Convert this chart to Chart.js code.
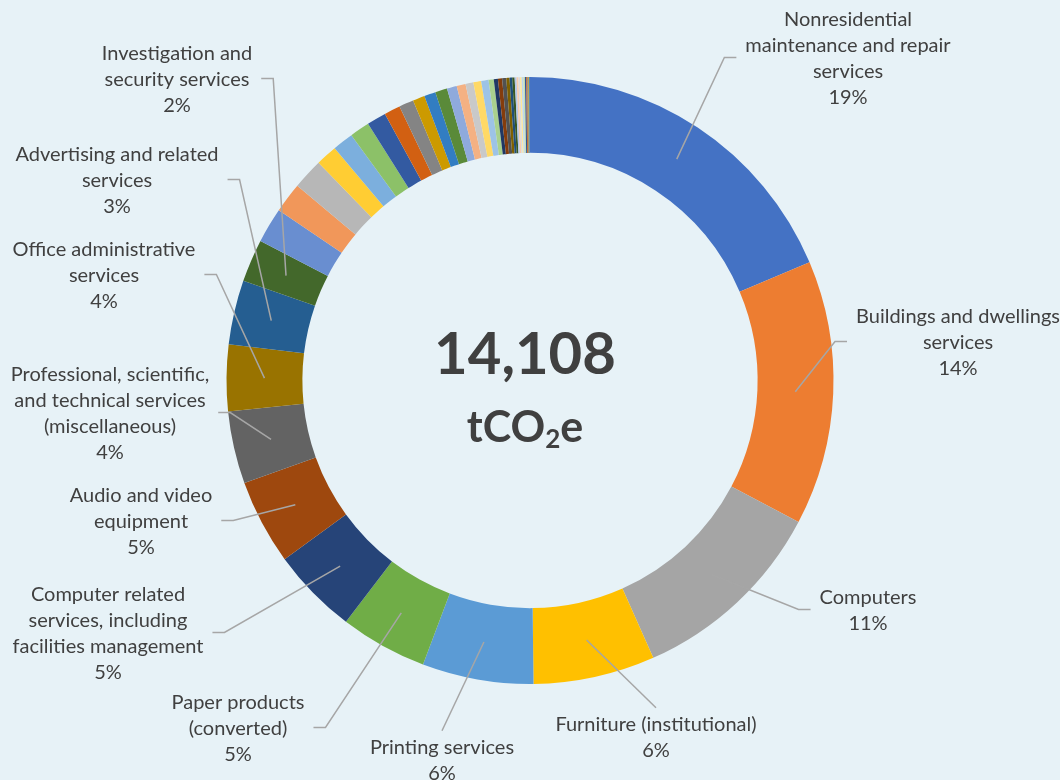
<!DOCTYPE html>
<html>
<head>
<meta charset="utf-8">
<title>Emissions by category</title>
<script src="https://cdn.jsdelivr.net/npm/chart.js@4/dist/chart.umd.min.js"></script>
<style>
  html, body { margin: 0; padding: 0; background: #E7F2F7; }
  #wrap { width: 1060px; height: 780px; position: relative; }
  canvas { display: block; }
</style>
</head>
<body>
<div id="wrap"><canvas id="donut" width="1060" height="780"></canvas></div>
<script>
// Category names (multi-line where the label wraps)
const categories = [
  ["Nonresidential", "maintenance and repair", "services"],
  ["Buildings and dwellings", "services"],
  ["Computers"],
  ["Furniture (institutional)"],
  ["Printing services"],
  ["Paper products", "(converted)"],
  ["Computer related", "services, including", "facilities management"],
  ["Audio and video", "equipment"],
  ["Professional, scientific,", "and technical services", "(miscellaneous)"],
  ["Office administrative", "services"],
  ["Advertising and related", "services"],
  ["Investigation and", "security services"],
  ["Other 13"], ["Other 14"], ["Other 15"], ["Other 16"], ["Other 17"], ["Other 18"],
  ["Other 19"], ["Other 20"], ["Other 21"], ["Other 22"], ["Other 23"], ["Other 24"],
  ["Other 25"], ["Other 26"], ["Other 27"], ["Other 28"], ["Other 29"], ["Other 30"],
  ["Other 31"], ["Other 32"], ["Other 33"], ["Other 34"], ["Other 35"], ["Other 36"],
  ["Other 37"], ["Other 38"], ["Other 39"], ["Other 40"], ["Other 41"], ["Other 42"],
  ["Other 43"], ["Other 44"], ["Other 45"], ["Other 46"], ["Other 47"]
];

// Emissions per category, tCO2e
const emissions = [
  2629, 1987, 1499, 913, 835, 654, 651, 639, 545, 498, 482, 321,
  266, 227, 231, 161, 157, 149, 145, 121, 110, 90, 86, 90,
  74, 67, 59, 59, 55, 39, 31, 31, 31, 24,
  20, 18, 14, 14, 12, 12, 12, 12, 10, 8, 8, 6, 6
];

// Office-style slice palette
const sliceColors = [
  "#4472C4", "#ED7D31", "#A5A5A5", "#FFC000", "#5B9BD5", "#70AD47",
  "#264478", "#9E480E", "#636363", "#997300", "#255E91", "#43682B",
  "#698ED0", "#F1975A", "#B7B7B7", "#FFCD33", "#7CAFDD", "#8CC168",
  "#335AA1", "#D26012", "#848484", "#CC9A00", "#327DC2", "#5A8A39",
  "#8FAADC", "#F4B183", "#C9C9C9", "#FFD966", "#9DC3E6", "#A9D18E",
  "#203864", "#843C0C", "#525252", "#7F6000", "#1F4E79", "#385723",
  "#B4C7E7", "#F8CBAD", "#DBDBDB", "#FFE699", "#BDD7EE", "#C5E0B4",
  "#2F5597", "#C55A11", "#7B7B7B", "#BF9000", "#2E75B6"
];

const unitMain = "tCO";
const unitSub = "2";
const unitTail = "e";

// Where each outside label sits, as an offset from the doughnut centre.
// side: which side of the leader line the text block is on.
const labelPlacement = [
  { index: 0,  dx: 318,  dy: -322, side: "right" },
  { index: 1,  dx: 428,  dy: -38,  side: "right" },
  { index: 2,  dx: 338,  dy: 230,  side: "right" },
  { index: 3,  dx: 126,  dy: 357,  side: "below" },
  { index: 4,  dx: -88,  dy: 380,  side: "below" },
  { index: 5,  dx: -292, dy: 348,  side: "left" },
  { index: 6,  dx: -422, dy: 253,  side: "left" },
  { index: 7,  dx: -389, dy: 141,  side: "left" },
  { index: 8,  dx: -420, dy: 33,   side: "left" },
  { index: 9,  dx: -426, dy: -105, side: "left" },
  { index: 10, dx: -413, dy: -200, side: "left" },
  { index: 11, dx: -353, dy: -301, side: "left" }
];

const TEXT_COLOR = "#404040";
const LEADER_COLOR = "#A6A6A6";
const LABEL_FONT = "20px Lato";
const LINE_H = 25.8;

const sliceLabels = {
  id: "sliceLabels",
  afterDatasetsDraw(chart) {
    const ctx = chart.ctx;
    const meta = chart.getDatasetMeta(0);
    const data = chart.data.datasets[0].data;
    const total = data.reduce((a, b) => a + b, 0);
    ctx.save();
    ctx.font = LABEL_FONT;
    ctx.textAlign = "center";
    ctx.textBaseline = "middle";
    labelPlacement.forEach(p => {
      const arc = meta.data[p.index];
      const a = arc.getProps(["x", "y", "startAngle", "endAngle", "innerRadius", "outerRadius"], true);
      const mid = (a.startAngle + a.endAngle) / 2;
      const r = (a.innerRadius + a.outerRadius) / 2;
      const px = a.x + Math.cos(mid) * r;
      const py = a.y + Math.sin(mid) * r;
      const lines = categories[p.index].concat([Math.round(data[p.index] / total * 100) + "%"]);
      const cx = a.x + p.dx;
      const cy = a.y + p.dy;
      const w = Math.max(...lines.map(l => ctx.measureText(l).width));
      const top = cy - lines.length * LINE_H / 2;

      ctx.strokeStyle = LEADER_COLOR;
      ctx.lineWidth = 1.5;
      ctx.beginPath();
      ctx.moveTo(px, py);
      if (p.side === "below") {
        ctx.lineTo(cx, top - 4);
      } else if (p.side === "right") {
        const edge = cx - w / 2;
        ctx.lineTo(edge - 21, cy - 1);
        ctx.lineTo(edge - 9, cy - 1);
      } else {
        const edge = cx + w / 2;
        ctx.lineTo(edge + 21, cy - 1);
        ctx.lineTo(edge + 9, cy - 1);
      }
      ctx.stroke();

      ctx.fillStyle = TEXT_COLOR;
      lines.forEach((l, i) => ctx.fillText(l, cx, top + LINE_H * (i + 0.5)));
    });

    // Total in the hole
    const c = meta.data[0];
    const ox = c.x - 5, oy = c.y;
    ctx.fillStyle = TEXT_COLOR;
    ctx.font = "bold 58px Lato";
    ctx.textBaseline = "middle";
    ctx.fillText(total.toLocaleString("en-US"), ox, oy - 25);

    ctx.textAlign = "left";
    ctx.textBaseline = "alphabetic";
    const mainFont = "bold 43px Lato", subFont = "bold 26px Lato";
    ctx.font = mainFont;
    const w1 = ctx.measureText(unitMain).width;
    const w3 = ctx.measureText(unitTail).width;
    ctx.font = subFont;
    const w2 = ctx.measureText(unitSub).width;
    let x0 = ox - (w1 + w2 + w3) / 2;
    const base = oy + 61;
    ctx.font = mainFont;
    ctx.fillText(unitMain, x0, base);
    ctx.font = subFont;
    ctx.fillText(unitSub, x0 + w1, base + 6);
    ctx.font = mainFont;
    ctx.fillText(unitTail, x0 + w1 + w2, base);
    ctx.restore();
  }
};

new Chart(document.getElementById("donut"), {
  type: "doughnut",
  data: {
    labels: categories,
    datasets: [{
      data: emissions,
      backgroundColor: sliceColors,
      borderWidth: 0
    }]
  },
  options: {
    responsive: false,
    devicePixelRatio: 1,
    animation: false,
    cutout: "75%",
    layout: { padding: { top: 77, bottom: 96, left: 0, right: 0 } },
    plugins: {
      legend: { display: false },
      tooltip: { enabled: false }
    }
  },
  plugins: [sliceLabels]
});
</script>
</body>
</html>
